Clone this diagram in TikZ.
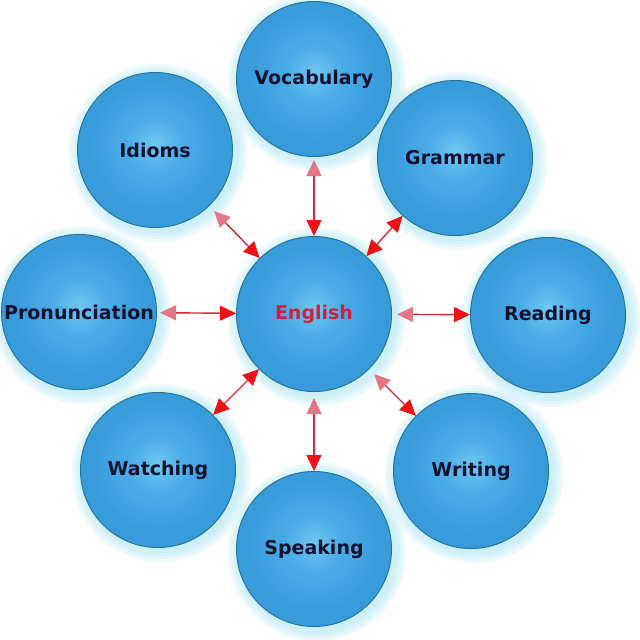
\documentclass[tikz,border=0pt]{standalone}
\usepackage{fontspec}
\setmainfont{DejaVu Sans}
\usetikzlibrary{arrows.meta}
\definecolor{ballhi}{RGB}{112,198,242}
\definecolor{ballmid}{RGB}{74,172,230}
\definecolor{balledge}{RGB}{56,156,220}
\definecolor{ballline}{RGB}{36,118,150}
\definecolor{glowc}{RGB}{178,232,244}
\definecolor{labc}{RGB}{18,18,48}
\definecolor{engc}{RGB}{205,35,60}
\definecolor{arrred}{RGB}{238,18,22}
\definecolor{arrpink}{RGB}{228,118,134}
\definecolor{linec}{RGB}{205,45,55}
\pgfdeclareradialshading{ballshade}{\pgfpoint{0bp}{2bp}}{color(0bp)=(ballhi); color(9bp)=(ballmid); color(21bp)=(balledge); color(25bp)=(balledge); color(50bp)=(balledge)}
\tikzset{
  ball/.style={circle, minimum size=155pt, inner sep=0pt, shade, shading=ballshade,
    draw=ballline, line width=1pt, font=\fontsize{19}{22}\selectfont\bfseries, text=labc},
  link/.style={draw=linec, line width=1.4pt},
  rr/.style={link, {Triangle[length=16pt,width=15pt,color=arrred]}-{Triangle[length=16pt,width=15pt,color=arrred]}},
  pr/.style={link, {Triangle[length=16pt,width=15pt,color=arrpink]}-{Triangle[length=16pt,width=15pt,color=arrred]}},
  glow/.style={fill=glowc, opacity=0.22}
}
\begin{document}
\begin{tikzpicture}[x=1pt, y=-1pt]
\fill[white] (0,0) rectangle (640,640);
\useasboundingbox (0,0) rectangle (640,640);
% glows
\foreach \p in {(314,314),(314,79),(455,158),(548,315),(471,471),(314,549),(158,470),(79,312),(155,150)}{
  \foreach \r in {80,83,86,89}{
    \fill[glow, shift={\p}] (3,3) circle (\r);
  }
}
% nodes
\node[ball] (eng) at (314,314) {\textcolor{engc}{English}};
\node[ball] (voc) at (314,79) {Vocabulary};
\node[ball] (gra) at (455,158) {Grammar};
\node[ball] (rea) at (548,315) {Reading};
\node[ball] (wri) at (471,471) {Writing};
\node[ball] (spe) at (314,549) {Speaking};
\node[ball] (wat) at (158,470) {Watching};
\node[ball] (pro) at (79,312) {Pronunciation};
\node[ball] (idi) at (155,150) {Idioms};
% connectors
\draw[pr, shorten <=3pt] (voc) -- (eng);
\draw[rr] (gra) -- (eng);
\draw[pr, shorten <=5pt] (eng) -- (rea);
\draw[pr, shorten <=7pt] (eng) -- (wri);
\draw[pr, shorten <=6pt] (eng) -- (spe);
\draw[rr] (wat) -- (eng);
\draw[pr, shorten <=3pt] (pro) -- (eng);
\draw[pr, shorten <=7pt] (idi) -- (eng);
\end{tikzpicture}
\end{document}
